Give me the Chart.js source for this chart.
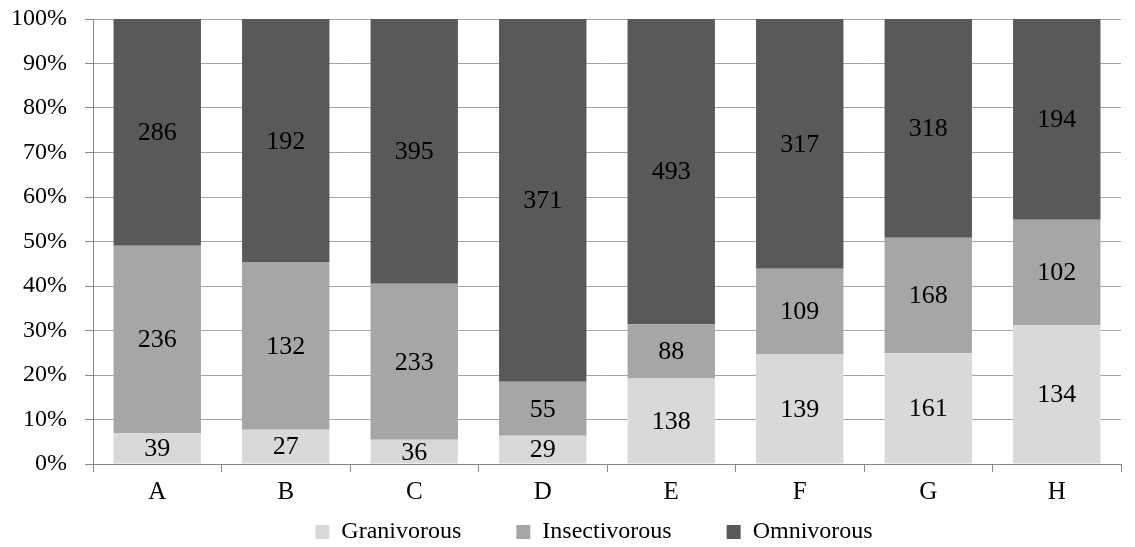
<!DOCTYPE html>
<html>
<head>
<meta charset="utf-8">
<script src="https://cdn.jsdelivr.net/npm/chart.js@4/dist/chart.umd.min.js"></script>
<style>
  html, body { margin: 0; padding: 0; background: #fff; }
  #wrap { width: 1135px; height: 547px; }
</style>
</head>
<body>
<div id="wrap"><canvas id="c" width="1135" height="547"></canvas></div>
<script>
// Sites and the number of individuals in each feeding guild
const categories = ['A', 'B', 'C', 'D', 'E', 'F', 'G', 'H'];
const granivorous = [39, 27, 36, 29, 138, 139, 161, 134];
const insectivorous = [236, 132, 233, 55, 88, 109, 168, 102];
const omnivorous = [286, 192, 395, 371, 493, 317, 318, 194];
const yTicks = [0, 10, 20, 30, 40, 50, 60, 70, 80, 90, 100];

const FONT = 'Liberation Serif, Times New Roman, serif';

// Share of each guild within a site, in percent
const totals = categories.map((_, i) => granivorous[i] + insectivorous[i] + omnivorous[i]);
const pct = arr => arr.map((v, i) => v / totals[i] * 100);

// Count labels centred inside each stacked segment
const countLabels = {
  id: 'countLabels',
  afterDatasetsDraw(chart) {
    const ctx = chart.ctx;
    ctx.save();
    ctx.font = '26px ' + FONT;
    ctx.fillStyle = '#000';
    ctx.textAlign = 'center';
    ctx.textBaseline = 'middle';
    chart.data.datasets.forEach((ds, di) => {
      const meta = chart.getDatasetMeta(di);
      meta.data.forEach((bar, i) => {
        const y = (bar.y + bar.base) / 2;
        ctx.fillText(String(ds.counts[i]), bar.x, y + 1);
      });
    });
    ctx.restore();
  }
};

// The legend takes no layout space; it is placed in the band below the axis labels
const legendBand = {
  id: 'legendBand',
  beforeLayout(chart) {
    const legend = chart.legend;
    if (legend && !legend._banded) {
      const fit = legend.fit;
      legend.fit = function () {
        fit.call(this);
        this.height = 0;
      };
      legend._banded = true;
    }
  },
  afterLayout(chart) {
    const legend = chart.legend;
    if (legend) {
      legend.top = 465;
      legend.bottom = chart.height;
      legend.height = legend.bottom - legend.top;
      legend.left = 53;
      legend.right = chart.width;
      legend.width = legend.right - legend.left;
    }
  }
};

new Chart(document.getElementById('c'), {
  type: 'bar',
  data: {
    labels: categories,
    datasets: [
      { label: 'Granivorous', data: pct(granivorous), counts: granivorous, backgroundColor: '#d9d9d9' },
      { label: 'Insectivorous', data: pct(insectivorous), counts: insectivorous, backgroundColor: '#a6a6a6' },
      { label: 'Omnivorous', data: pct(omnivorous), counts: omnivorous, backgroundColor: '#595959' }
    ]
  },
  options: {
    responsive: false,
    animation: false,
    devicePixelRatio: 1,
    layout: { padding: { top: 19, right: 14, left: 0, bottom: 0 } },
    datasets: { bar: { categoryPercentage: 1, barPercentage: 0.68, borderWidth: 0 } },
    plugins: {
      legend: {
        position: 'bottom',
        labels: {
          font: { family: FONT, size: 24 },
          color: '#000',
          boxWidth: 14,
          boxHeight: 14,
          padding: 55
        }
      },
      tooltip: { enabled: false }
    },
    scales: {
      x: {
        stacked: true,
        afterFit(scale) { scale.height = 83; },
        grid: { display: true, drawOnChartArea: false, drawTicks: true, tickLength: 8, color: '#868686', offset: true },
        border: { display: true, color: '#868686', width: 1 },
        ticks: { font: { family: FONT, size: 25 }, color: '#000', padding: 5 }
      },
      y: {
        stacked: true,
        min: 0,
        max: 100,
        afterFit(scale) {
          scale.width = 93;
          scale.paddingTop = 0;
          scale.paddingBottom = 0;
        },
        afterBuildTicks(scale) { scale.ticks = yTicks.map(v => ({ value: v })); },
        grid: { color: '#a6a6a6', lineWidth: 1, tickLength: 8, drawTicks: true, tickColor: '#868686' },
        border: { display: true, color: '#868686', width: 1 },
        ticks: {
          font: { family: FONT, size: 24 },
          color: '#000',
          padding: 18,
          callback: v => v + '%'
        }
      }
    }
  },
  plugins: [countLabels, legendBand]
});
</script>
</body>
</html>
